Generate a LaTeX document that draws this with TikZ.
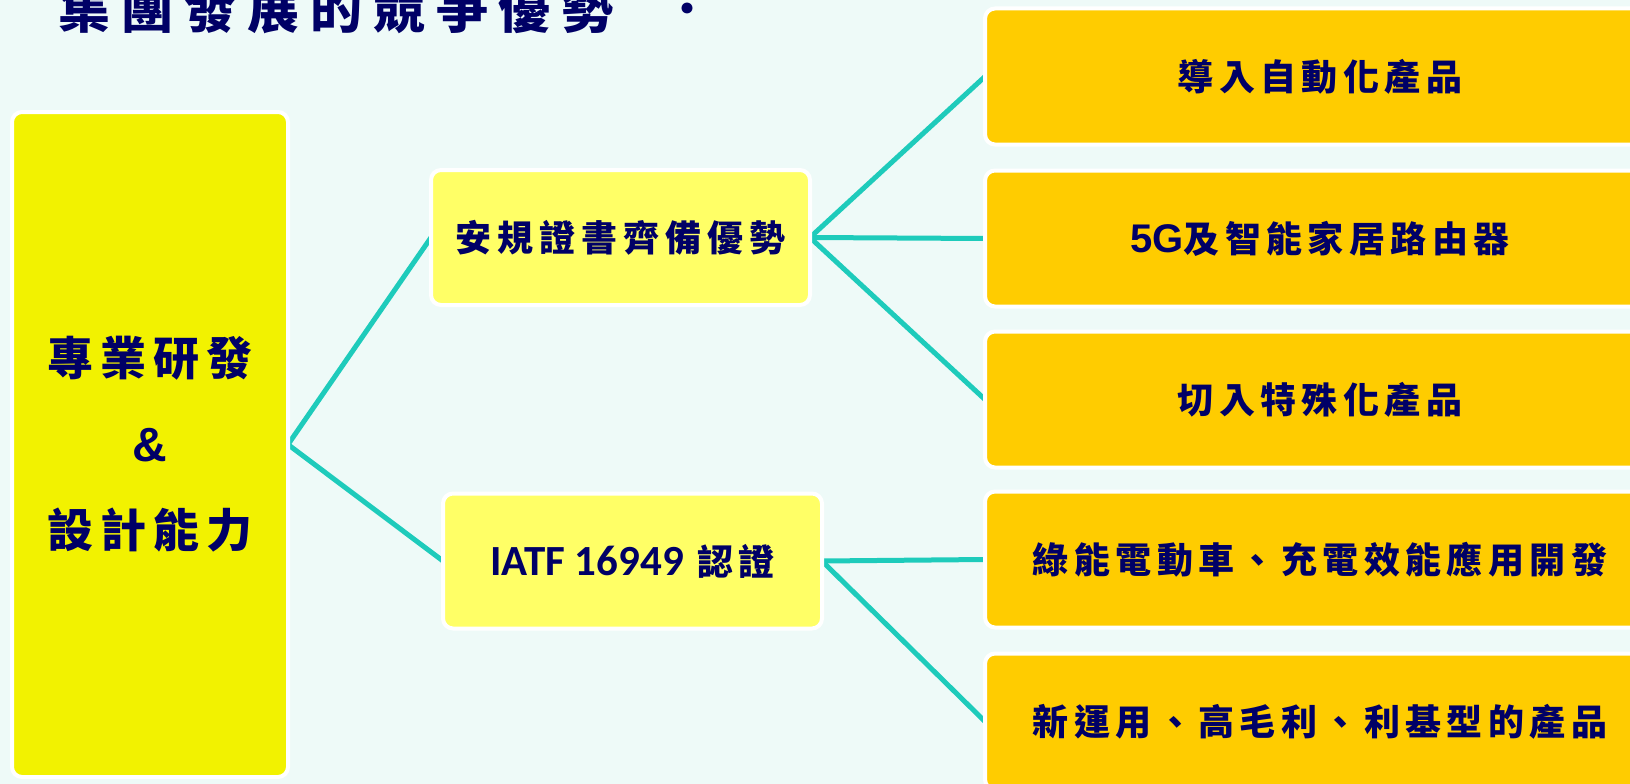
\documentclass[tikz,border=0pt]{standalone}
\usepackage{fontspec}
\usetikzlibrary{backgrounds}
\newfontfamily\cjk{Noto Sans CJK TC}[LetterSpace=15]
\newfontfamily\cjkmid{Noto Sans CJK TC}[LetterSpace=17]
\newfontfamily\cjkwide{Noto Sans CJK TC}[LetterSpace=21]
\newfontfamily\sansb{Liberation Sans}
\newfontfamily\carl{Carlito}
\definecolor{navy}{HTML}{000066}
\definecolor{bgc}{HTML}{EEFAF8}
\definecolor{lefty}{HTML}{F2F200}
\definecolor{midy}{HTML}{FFFF66}
\definecolor{gold}{HTML}{FFCC00}
\definecolor{tealc}{HTML}{1ECBBB}
\tikzset{
  box/.style={draw=white, line width=4pt, rounded corners=10pt, inner sep=0pt, outer sep=0pt, text=navy, align=center},
  lbox/.style={box, fill=lefty, minimum width=276pt, minimum height=665pt},
  mbox/.style={box, fill=midy, minimum width=379pt, minimum height=135pt},
  rbox/.style={box, fill=gold, minimum width=670pt, minimum height=136pt},
  link/.style={draw=tealc, line width=5pt},
  rtext/.style={font=\fontsize{36}{40}\selectfont\cjk\bfseries},
}
\begin{document}
\begin{tikzpicture}[x=1pt,y=-1pt]
\useasboundingbox (0,0) rectangle (1630,784);
\node[anchor=base west, text=navy, font=\fontsize{52}{56}\selectfont\cjkwide\bfseries] (title) at (55,29) {集團發展的競爭優勢\hspace{48pt}\raisebox{13pt}{：}};
\node[lbox, font=\fontsize{46}{86}\selectfont\cjk\bfseries] (L) at (150,444.5) {專業研發\\{\sansb\bfseries\fontsize{48}{86}\selectfont\&}\\設計能力};
\node[mbox, font=\fontsize{36}{40}\selectfont\cjkmid\bfseries] (M1) at (620.5,237.5) {安規證書齊備優勢};
\node[mbox, rtext] (M2) at (632.5,561) {{\carl\bfseries\fontsize{43}{40}\selectfont IATF 16949} 認證};
\node[rbox, rtext] (R1) at (1320,76.5) {導入自動化產品};
\node[rbox, rtext] (R2) at (1320,238.5) {{\sansb\bfseries\fontsize{40}{40}\selectfont 5G}及智能家居路由器};
\node[rbox, rtext] (R3) at (1320,399.5) {切入特殊化產品};
\node[rbox, rtext] (R4) at (1320,559.5) {綠能電動車、充電效能應用開發};
\node[rbox, rtext] (R5) at (1320,721.5) {新運用、高毛利、利基型的產品};
\begin{pgfonlayer}{background}
\fill[bgc] (0,0) rectangle (1630,784);
\draw[link] (L.east) -- (M1.west);
\draw[link] (L.east) -- (M2.west);
\draw[link] (M1.east) -- (R1.west);
\draw[link] (M1.east) -- (R2.west);
\draw[link] (M1.east) -- (R3.west);
\draw[link] (M2.east) -- (R4.west);
\draw[link] (M2.east) -- (R5.west);
\end{pgfonlayer}
\end{tikzpicture}
\end{document}
